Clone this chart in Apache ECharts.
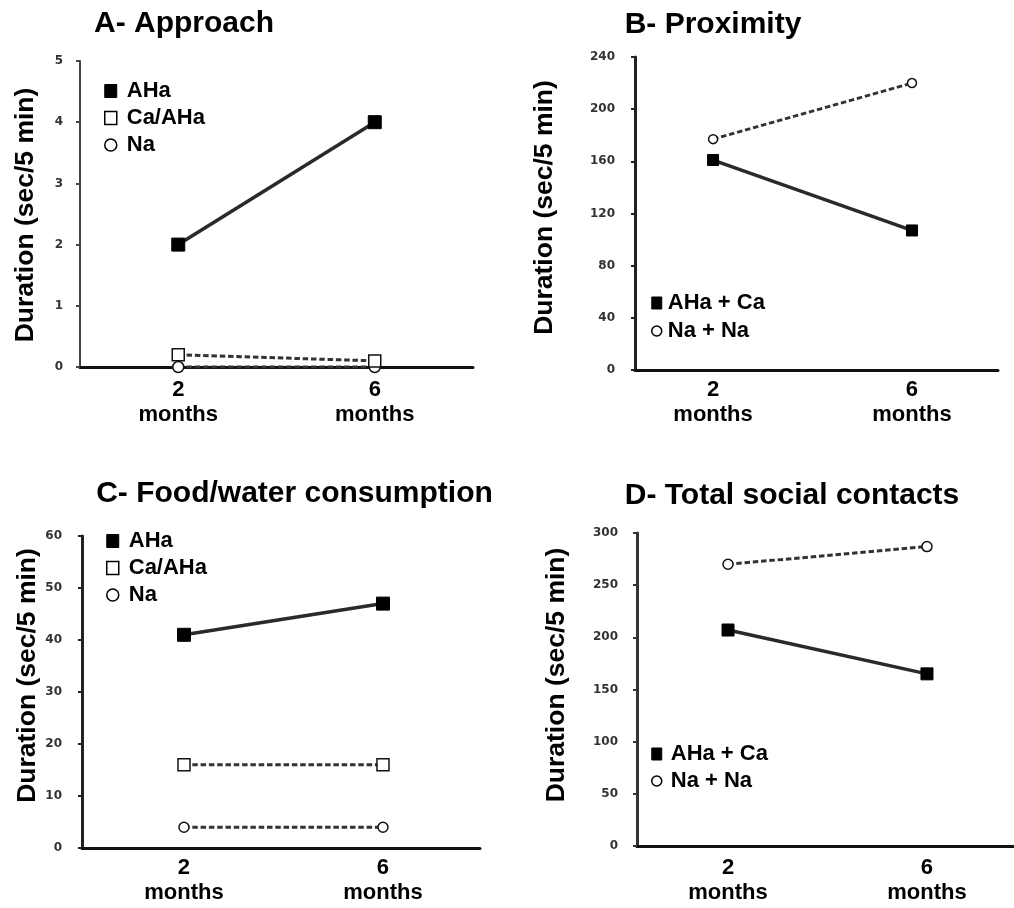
<!DOCTYPE html>
<html>
<head>
<meta charset="utf-8">
<script src="https://cdn.jsdelivr.net/npm/echarts@6/dist/echarts.min.js"></script>
<style>html,body{margin:0;padding:0;background:#fff}#c{width:1014px;height:908px}</style>
</head>
<body>
<div id="c"></div>
<script>
// ---- data ----
const months = [2, 6];
const monthLabels = ['2\nmonths', '6\nmonths'];

const approachAHa = [2, 4];
const approachCaAHa = [0.2, 0.1];
const approachNa = [0, 0];

const proximityAHaCa = [161, 107];
const proximityNaNa = [177, 220];

const foodAHa = [41, 47];
const foodCaAHa = [16, 16];
const foodNa = [4, 4];

const socialAHaCa = [207, 165];
const socialNaNa = [270, 287];

const titles = ['A- Approach', 'B- Proximity', 'C- Food/water consumption', 'D- Total social contacts'];
const yTitle = 'Duration (sec/5 min)';
const yMax = [5, 240, 60, 300];
const yStep = [1, 40, 10, 50];

// ---- helpers ----
const FONT = 'Liberation Sans, Arial, Helvetica, sans-serif';
const pairs = vals => vals.map((v, i) => [months[i], v]);

const grids = [
  {left: 80, top: 61, width: 393, height: 306},
  {left: 635, top: 57, width: 363, height: 313},
  {left: 82, top: 536, width: 398, height: 312},
  {left: 637, top: 533, width: 377, height: 313}
];
const xRange = [[0, 8], [0.43, 7.73], [-0.05, 7.95], [0.17, 7.75]];
const yAxisColor = ['#444', '#222', '#222', '#333'];
const yAxisWidth = [2, 3, 3, 3];
const labelMargin = [17, 20, 20, 19];
const xLabelMargin = [10, 7, 7, 9];

const xAxes = grids.map((g, i) => ({
  type: 'value', gridIndex: i, min: xRange[i][0], max: xRange[i][1],
  splitLine: {show: false},
  axisTick: {show: false},
  axisLine: {show: true, onZero: false, lineStyle: {color: '#111', width: 3}},
  axisLabel: {
    customValues: months, margin: xLabelMargin[i],
    formatter: v => monthLabels[months.indexOf(v)] || '',
    fontFamily: FONT, fontSize: 22, fontWeight: 'bold', color: '#000', lineHeight: 25
  }
}));

const yAxes = grids.map((g, i) => ({
  type: 'value', gridIndex: i, min: 0, max: yMax[i], interval: yStep[i],
  splitLine: {show: false},
  axisLine: {show: true, onZero: false, lineStyle: {color: yAxisColor[i], width: yAxisWidth[i]}},
  axisTick: {show: true, length: 4, lineStyle: {color: yAxisColor[i], width: 2}},
  axisLabel: {margin: labelMargin[i], fontFamily: 'DejaVu Sans', fontSize: 12, fontWeight: 'bold', color: '#333'}
}));

function mk(name, idx, vals, sym, size, filled, dashed) {
  return {
    type: 'line', name: name, xAxisIndex: idx, yAxisIndex: idx,
    data: pairs(vals), symbol: sym, symbolSize: size,
    itemStyle: filled ? {color: '#000', borderColor: '#000', borderWidth: 1}
                      : {color: '#fff', borderColor: '#111', borderWidth: 1.5},
    lineStyle: dashed ? {color: '#333', width: 3, type: [5.5, 2.8]}
                      : {color: '#2a2a2a', width: 3.5, type: 'solid'},
    emphasis: {disabled: true}, silent: true, z: 3
  };
}

const series = [
  mk('Na', 0, approachNa, 'circle', 11, false, true),
  mk('Ca/AHa', 0, approachCaAHa, 'rect', 12, false, true),
  mk('AHa', 0, approachAHa, 'rect', 13, true, false),
  mk('Na + Na', 1, proximityNaNa, 'circle', 9, false, true),
  mk('AHa + Ca', 1, proximityAHaCa, 'rect', 11, true, false),
  mk('Na ', 2, foodNa, 'circle', 10, false, true),
  mk('Ca/AHa ', 2, foodCaAHa, 'rect', 12, false, true),
  mk('AHa ', 2, foodAHa, 'rect', 13, true, false),
  mk('Na + Na ', 3, socialNaNa, 'circle', 10, false, true),
  mk('AHa + Ca ', 3, socialAHaCa, 'rect', 12, true, false)
];

const filledIcon = {color: '#000', borderColor: '#000', borderWidth: 1};
const openIcon = {color: '#fff', borderColor: '#000', borderWidth: 1.5};

function legend(left, top, items, w, h, pad, gap) {
  return {
    orient: 'vertical', left: left, top: top, itemWidth: w, itemHeight: h, itemGap: gap,
    selectedMode: false,
    textStyle: {fontFamily: FONT, fontSize: 22, fontWeight: 'bold', color: '#000', padding: [0, 0, 0, pad]},
    data: items.map(it => ({name: it[0], icon: it[1], itemStyle: it[2] ? filledIcon : openIcon}))
  };
}

const legends = [
  legend(99, 75, [['AHa', 'rect', true], ['Ca/AHa', 'rect', false], ['Na', 'circle', false]], 12, 13, 5, 5),
  legend(646, 287, [['AHa + Ca', 'rect', true], ['Na + Na', 'circle', false]], 10, 12, 1, 6),
  legend(101, 525, [['AHa ', 'rect', true], ['Ca/AHa ', 'rect', false], ['Na ', 'circle', false]], 12, 13, 5, 5),
  legend(646, 738, [['AHa + Ca ', 'rect', true], ['Na + Na ', 'circle', false]], 10, 12, 4, 5)
];

const titlePos = [[184, 24], [713, 24.5], [294.5, 494], [792, 496]];
const yTitlePos = [[26, 215], [545, 207.5], [28, 675.5], [557, 675]];

const graphics = [];
titles.forEach((t, i) => graphics.push({
  type: 'text', x: titlePos[i][0], y: titlePos[i][1], silent: true,
  style: {text: t, font: 'bold 30px ' + FONT, fill: '#000', textAlign: 'center', textVerticalAlign: 'middle'}
}));
yTitlePos.forEach((p, i) => graphics.push({
  type: 'text', x: p[0], y: p[1], rotation: Math.PI / 2, silent: true,
  style: {text: yTitle, font: 'bold 26.5px ' + FONT, fill: '#000', textAlign: 'center', textVerticalAlign: 'middle'}
}));

const chart = echarts.init(document.getElementById('c'), null, {renderer: 'canvas'});
chart.setOption({
  animation: false,
  backgroundColor: '#fff',
  grid: grids,
  xAxis: xAxes,
  yAxis: yAxes,
  legend: legends,
  series: series,
  graphic: graphics
});
</script>
</body>
</html>
